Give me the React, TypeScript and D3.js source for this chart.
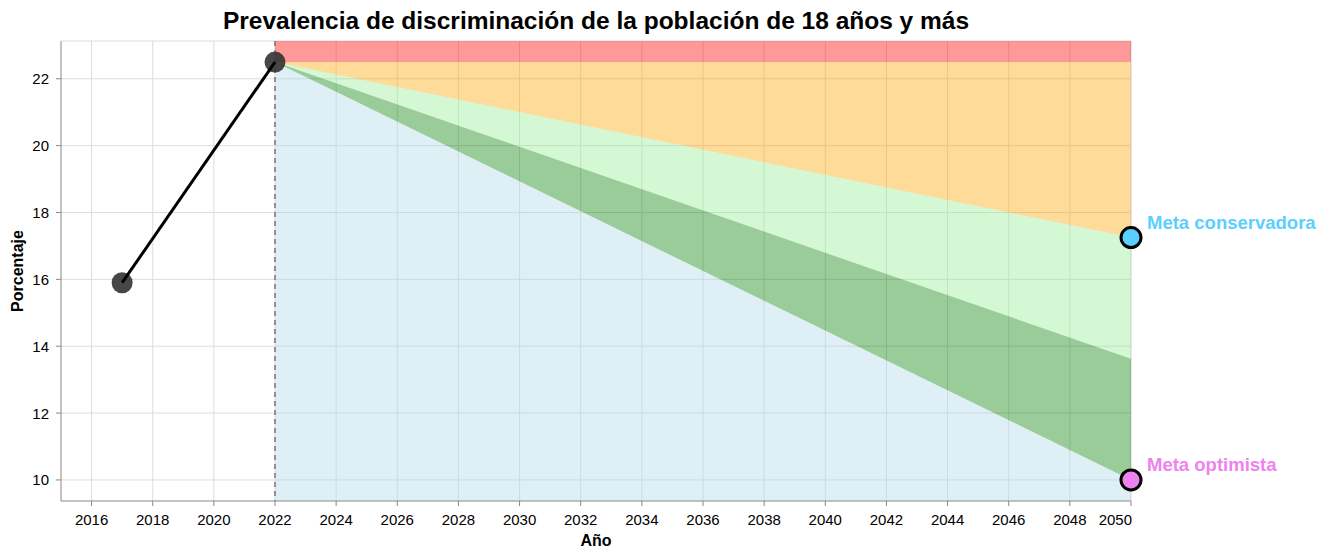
import React from "react";
import * as d3 from "d3";

const histYears = [2017, 2022];
const histValues = [15.9, 22.5];
const projYears = [2022, 2050];
const ceiling = [22.5, 22.5];
const conservative = [22.5, 17.25];
const middle = [22.5, 13.625];
const optimistic = [22.5, 10];
const xTicks = [2016, 2018, 2020, 2022, 2024, 2026, 2028, 2030, 2032, 2034, 2036, 2038, 2040, 2042, 2044, 2046, 2048, 2050];
const yTicks = [10, 12, 14, 16, 18, 20, 22];
const goalLabels = ["Meta conservadora", "Meta optimista"];
const goalValues = [17.25, 10];

const W = 1328, H = 548;
const left = 61, right = 1131, top = 41, bottom = 501;
const FONT = "Liberation Sans, Arial, sans-serif";

export default function App() {
  const x = d3.scaleLinear().domain([2015, 2050]).range([left, right]);
  const y = d3.scaleLinear().domain([9.37, 23.13]).range([bottom, top]);

  const area = (lo: number[] | null, hi: number[] | null) => {
    const a = d3
      .area<number>()
      .x((_, i) => x(projYears[i]))
      .y0((_, i) => (lo ? y(lo[i]) : bottom))
      .y1((_, i) => (hi ? y(hi[i]) : top));
    return a([0, 1]) || "";
  };
  const line = d3
    .line<number>()
    .x((_, i) => x(histYears[i]))
    .y((d) => y(d));

  const goalColors = ["#5bcfff", "#ee82ee"];

  return (
    <svg width={W} height={H} style={{ position: "absolute", left: 0, top: 0, fontFamily: FONT }}>
      <rect width={W} height={H} fill="white" />
      {xTicks.map((t) => (
        <line key={"gx" + t} x1={x(t)} x2={x(t)} y1={top} y2={bottom} stroke="#ddd" strokeWidth={1} />
      ))}
      {yTicks.map((t) => (
        <line key={"gy" + t} x1={left} x2={right} y1={y(t)} y2={y(t)} stroke="#ddd" strokeWidth={1} />
      ))}
      <line x1={left} x2={right} y1={top} y2={top} stroke="#ddd" />
      <line x1={right} x2={right} y1={top} y2={bottom} stroke="#ddd" />
      <path d={area(ceiling, null)} fill="#ff0000" fillOpacity={0.4} />
      <path d={area(conservative, ceiling)} fill="#ffa500" fillOpacity={0.4} />
      <path d={area(middle, conservative)} fill="#90ee90" fillOpacity={0.4} />
      <path d={area(optimistic, middle)} fill="#008000" fillOpacity={0.4} />
      <path d={area(null, optimistic)} fill="#add8e6" fillOpacity={0.4} />
      <line x1={x(2022)} x2={x(2022)} y1={top} y2={bottom} stroke="#777" strokeWidth={1.5} strokeDasharray="5,4" />
      <line x1={left} x2={left} y1={top} y2={bottom} stroke="#888" strokeWidth={1} />
      <line x1={left} x2={right} y1={bottom} y2={bottom} stroke="#888" strokeWidth={1} />
      {xTicks.map((t, i) => (
        <g key={"tx" + t}>
          <line x1={x(t)} x2={x(t)} y1={bottom} y2={bottom + 5} stroke="#888" />
          <text
            x={i === xTicks.length - 1 ? x(t) + 1 : x(t)}
            y={bottom + 24}
            textAnchor={i === xTicks.length - 1 ? "end" : "middle"}
            fontSize={15}
            fill="#000"
          >
            {t}
          </text>
        </g>
      ))}
      {yTicks.map((t) => (
        <g key={"ty" + t}>
          <line x1={left - 5} x2={left} y1={y(t)} y2={y(t)} stroke="#888" />
          <text x={left - 12} y={y(t) + 5.5} textAnchor="end" fontSize={15} fill="#000">
            {t}
          </text>
        </g>
      ))}
      <text x={(left + right) / 2} y={546} textAnchor="middle" fontSize={16} fontWeight="bold">
        Año
      </text>
      <text transform={`translate(23,${(top + bottom) / 2}) rotate(-90)`} textAnchor="middle" fontSize={16} fontWeight="bold">
        Porcentaje
      </text>
      <text x={(left + right) / 2} y={29} textAnchor="middle" fontSize={24.5} fontWeight="bold">
        Prevalencia de discriminación de la población de 18 años y más
      </text>
      {histValues.map((v, i) => (
        <circle key={"h" + i} cx={x(histYears[i])} cy={y(v)} r={10.5} fill="#333" fillOpacity={0.9} />
      ))}
      <path d={line(histValues) || ""} fill="none" stroke="#000" strokeWidth={3} />
      {goalValues.map((v, i) => (
        <g key={"g" + i}>
          <circle cx={x(2050)} cy={y(v)} r={10} fill={goalColors[i]} stroke="#000" strokeWidth={3} />
          <text x={x(2050) + 16} y={y(v) - 9} fontSize={18.5} fontWeight="bold" fill={goalColors[i]}>
            {goalLabels[i]}
          </text>
        </g>
      ))}
    </svg>
  );
}
